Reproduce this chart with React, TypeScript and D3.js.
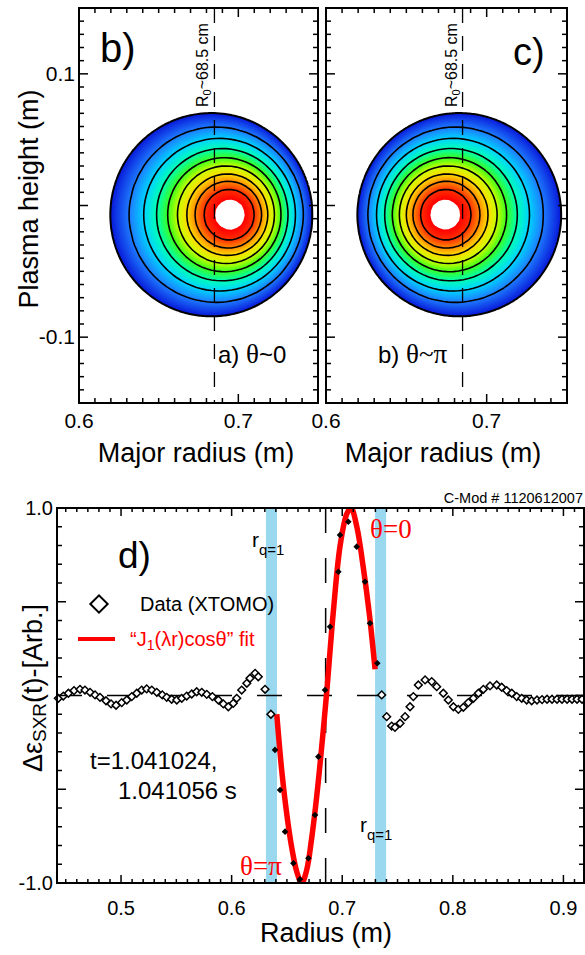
import { useEffect, useRef } from "react";
import * as d3 from "d3";

const W = 585;
const H = 955;
const SANS = "'Liberation Sans', Arial, Helvetica, sans-serif";
const SERIF = "'Liberation Serif', 'Times New Roman', serif";

// ---- top panels: SXR emissivity contours ----
const panelTags = ["b)", "c)"];
const panelCaption = ["a) ", "b) "];
const panelTheta = ["θ~0", "θ~π"];
const coreShift = [0.012, -0.009]; // shift of the hot core from the boundary centre (m)
const plasmaCentre = [0.683, -0.007]; // R, Z of the boundary (m)
const plasmaHalfSize = [0.0634, 0.0772]; // half width, half height (m)
const profileRho = [0, 0.15, 0.25, 0.33, 0.4, 0.48, 0.56, 0.65, 0.75, 0.86, 1.0];
const profileLevel = [1.0, 0.9, 0.8, 0.7, 0.6, 0.5, 0.4, 0.3, 0.2, 0.1, 0.0];
const contourLevels = [0.1, 0.2, 0.3, 0.4, 0.5, 0.6, 0.7, 0.8];
const colourLevels = [0, 0.1, 0.2, 0.3, 0.4, 0.5, 0.6, 0.7, 0.8, 0.9];
const colourStops = ["#0818d8", "#1e7cff", "#00d4ff", "#00ffb4", "#3cff1e", "#c8ff00", "#ffdc00", "#ff8c00", "#ff3200", "#ff0000"];
const majorRadiusTicks = [0.6, 0.7];
const heightTicks = [-0.1, 0.1];
const R0 = 0.685;

// ---- bottom panel: XTOMO perturbation profile ----
const dataR = [
  0.4433, 0.4478, 0.4524, 0.4575, 0.4629, 0.4674, 0.472, 0.4765, 0.481, 0.4864,
  0.491, 0.4955, 0.5006, 0.5052, 0.5097, 0.5142, 0.5187, 0.5232, 0.5278, 0.5323,
  0.5373, 0.5413, 0.5458, 0.5504, 0.5549, 0.5594, 0.5639, 0.5684, 0.573, 0.5775,
  0.5826, 0.588, 0.5925, 0.597, 0.6015, 0.6046, 0.6091, 0.6137, 0.6166, 0.6212,
  0.6241, 0.6302, 0.6355, 0.6392, 0.6438, 0.6483, 0.6558, 0.6618, 0.6694, 0.6754,
  0.6784, 0.6844, 0.689, 0.6965, 0.698, 0.7055, 0.7131, 0.7206, 0.7251, 0.7317,
  0.7357, 0.7402, 0.7447, 0.7477, 0.7523, 0.7568, 0.7613, 0.7643, 0.7688, 0.7749,
  0.7809, 0.7854, 0.7914, 0.7959, 0.8005, 0.805, 0.8095, 0.814, 0.8186, 0.8231,
  0.8276, 0.8336, 0.8397, 0.8442, 0.8487, 0.8533, 0.8578, 0.8623, 0.8668, 0.8713,
  0.8761, 0.8807, 0.8852, 0.8897, 0.8942, 0.8987, 0.9033, 0.9078, 0.9123, 0.9168,
];
const dataV = [
  -0.015, -0.003, 0.012, 0.026, 0.033, 0.029, 0.017, 0.003, -0.01, -0.028,
  -0.045, -0.052, -0.038, -0.024, -0.006, 0.012, 0.029, 0.035, 0.029, 0.017,
  0.003, -0.01, -0.02, -0.024, -0.015, -0.003, 0.008, 0.02, 0.017, 0.006,
  -0.006, -0.024, -0.045, -0.06, -0.042, -0.015, 0.029, 0.065, 0.092, 0.118,
  0.1, 0.033, -0.1, -0.29, -0.504, -0.726, -0.895, -0.98, -0.868, -0.637,
  -0.326, 0.029, 0.367, 0.66, 0.856, 0.927, 0.794, 0.607, 0.385, 0.172,
  0.003, -0.113, -0.163, -0.17, -0.148, -0.113, -0.06, -0.006, 0.056, 0.083,
  0.074, 0.047, 0.012, -0.024, -0.06, -0.074, -0.063, -0.038, -0.015, 0.012,
  0.033, 0.051, 0.056, 0.044, 0.026, 0.012, -0.006, -0.015, -0.024, -0.028,
  -0.024, -0.022, -0.02, -0.02, -0.02, -0.02, -0.02, -0.02, -0.02, -0.02,
];
const fitR = [0.6408, 0.6453, 0.6498, 0.6543, 0.6589, 0.6634, 0.6679, 0.6724, 0.6769, 0.6815, 0.686, 0.692, 0.6981, 0.7042, 0.708, 0.7132, 0.7191, 0.7246, 0.7297];
const fitV = [-0.1, -0.4, -0.63, -0.81, -0.94, -1.0, -0.93, -0.76, -0.54, -0.27, 0.02, 0.45, 0.8, 0.97, 1.0, 0.9, 0.68, 0.43, 0.14];
const qOneBands = [[0.631, 0.641], [0.7297, 0.7397]];
const radiusTicks = [0.5, 0.6, 0.7, 0.8, 0.9];
const ampTicks = [-1.0, 1.0];

type Sel = d3.Selection<any, unknown, null, undefined>;

function stepTicks(lo: number, hi: number, step: number) {
  const out: number[] = [];
  for (let k = Math.ceil(lo / step - 1e-6); k <= Math.floor(hi / step + 1e-6); k++) out.push(+(k * step).toFixed(6));
  return out;
}

function isMultiple(v: number, step: number) {
  return Math.abs(v / step - Math.round(v / step)) < 1e-6;
}

function frameTicks(g: Sel, xs: any, ys: any, xMinor: number, xMajor: number, yMinor: number, yMajor: number, lx: number[], ly: number[]) {
  const [x0, x1] = xs.range();
  const [y0, y1] = ys.range(); // bottom, top
  const xd = xs.domain();
  const yd = ys.domain();
  stepTicks(xd[0], xd[1], xMinor).forEach((t) => {
    const len = isMultiple(t, xMajor) ? lx[0] : lx[1];
    const x = xs(t);
    g.append("line").attr("x1", x).attr("x2", x).attr("y1", y0).attr("y2", y0 - len);
    g.append("line").attr("x1", x).attr("x2", x).attr("y1", y1).attr("y2", y1 + len);
  });
  stepTicks(yd[0], yd[1], yMinor).forEach((t) => {
    const len = isMultiple(t, yMajor) ? ly[0] : ly[1];
    const y = ys(t);
    g.append("line").attr("x1", x0).attr("x2", x0 + len).attr("y1", y).attr("y2", y);
    g.append("line").attr("x1", x1).attr("x2", x1 - len).attr("y1", y).attr("y2", y);
  });
  g.selectAll("line").attr("stroke", "#000").attr("stroke-width", 1.5);
  g.append("rect")
    .attr("x", x0).attr("y", y1).attr("width", x1 - x0).attr("height", y0 - y1)
    .attr("fill", "none").attr("stroke", "#000").attr("stroke-width", 2);
}

function drawTop(svg: Sel) {
  const panelX = [[79, 318], [326, 567]];
  const top = 8;
  const bottom = 403;
  const level = d3.scaleLinear().domain(profileRho).range(profileLevel);
  const colour = d3.scaleLinear<string>().domain(colourLevels).range(colourStops).interpolate(d3.interpolateRgb).clamp(true);
  const [Rc, Zc] = plasmaCentre;
  const [a, b] = plasmaHalfSize;

  panelX.forEach((px, p) => {
    const xs = d3.scaleLinear().domain([0.6, 0.75]).range(px);
    const ys = d3.scaleLinear().domain([-0.15, 0.15]).range([bottom, top]);
    const g = svg.append("g");

    const grid = (step: number) => {
      const nx = Math.ceil((px[1] - px[0]) / step);
      const ny = Math.ceil((bottom - top) / step);
      const values = new Array(nx * ny);
      for (let j = 0; j < ny; j++) {
        for (let i = 0; i < nx; i++) {
          const R = xs.invert(px[0] + (i + 0.5) * step);
          const Z = ys.invert(top + (j + 0.5) * step);
          const dz = (Z - Zc) / b;
          let rho = Math.hypot((R - Rc) / a, dz);
          for (let k = 0; k < 10; k++) {
            const c = Rc + coreShift[p] * (1 - Math.min(rho, 1) ** 2);
            rho = Math.hypot((R - c) / a, dz);
          }
          values[i + j * nx] = rho <= 1 ? level(rho) : -(rho - 1) * 0.7;
        }
      }
      const path = d3.geoPath(d3.geoIdentity().scale(step).translate([px[0], top]) as any);
      return { nx, ny, values, path };
    };

    const fine = grid(1.5);
    const fillLevels = d3.range(0, 90).map((k) => k / 100);
    const fills = d3.contours().size([fine.nx, fine.ny]).thresholds(fillLevels)(fine.values);
    g.selectAll("path.fill")
      .data(fills)
      .join("path")
      .attr("d", (d: any) => fine.path(d))
      .attr("fill", (d: any) => colour(d.value + 0.005))
      .attr("stroke", "none");

    // white core drawn on a coarse grid, like the reference's blocky centre
    const coarse = grid(5);
    const core = d3.contours().size([coarse.nx, coarse.ny]).thresholds([0.9])(coarse.values);
    g.append("path").attr("d", coarse.path(core[0]) as string).attr("fill", "#ffffff");

    const lines = d3.contours().size([coarse.nx, coarse.ny]).thresholds(contourLevels)(coarse.values);
    g.selectAll("path.line")
      .data(lines)
      .join("path")
      .attr("d", (d: any) => coarse.path(d))
      .attr("fill", "none")
      .attr("stroke", "#000")
      .attr("stroke-width", 1.6)
      .attr("stroke-linejoin", "round");

    const edge = d3.contours().size([fine.nx, fine.ny]).thresholds([0])(fine.values);
    g.append("path").attr("d", fine.path(edge[0]) as string).attr("fill", "none").attr("stroke", "#000").attr("stroke-width", 2);

    // R0 dashed line and label
    g.append("line")
      .attr("x1", xs(R0)).attr("x2", xs(R0)).attr("y1", top).attr("y2", bottom)
      .attr("stroke", "#000").attr("stroke-width", 1.3).attr("stroke-dasharray", "15,13");
    const lab = g.append("text")
      .attr("transform", `translate(${xs(R0) - 6},107) rotate(-90)`)
      .attr("font-family", SANS).attr("font-size", 16).attr("fill", "#000");
    lab.append("tspan").text("R");
    lab.append("tspan").attr("font-size", 11).attr("dy", 3).text("0");
    lab.append("tspan").attr("dy", -3).text("~68.5 cm");

    // panel tag and caption
    g.append("text").attr("x", p === 0 ? 100 : 513).attr("y", p === 0 ? 62 : 65)
      .attr("font-family", SANS).attr("font-size", p === 0 ? 40 : 38).text(panelTags[p]);
    const cap = g.append("text").attr("x", p === 0 ? 218 : 378).attr("y", 363)
      .attr("font-family", SANS).attr("font-size", 24);
    cap.append("tspan").text(panelCaption[p]);
    cap.append("tspan").attr("font-family", SERIF).attr("font-size", 27).text(panelTheta[p].slice(0, 1));
    cap.append("tspan").attr("font-family", p === 0 ? SANS : SERIF).attr("font-size", p === 0 ? 24 : 27).text(panelTheta[p].slice(1));

    frameTicks(g.append("g"), xs, ys, 0.01, 0.1, 0.01, 0.1, [9, 5], [9, 5]);

    majorRadiusTicks.forEach((t) => {
      g.append("text").attr("x", xs(t)).attr("y", 428).attr("text-anchor", "middle")
        .attr("font-family", SANS).attr("font-size", 21).text(t.toFixed(1));
    });
    if (p === 0) {
      heightTicks.forEach((t) => {
        g.append("text").attr("x", 75).attr("y", ys(t) + 7).attr("text-anchor", "end")
          .attr("font-family", SANS).attr("font-size", 21).text(t.toFixed(1));
      });
      g.append("text").attr("transform", "translate(38,199) rotate(-90)").attr("text-anchor", "middle")
        .attr("font-family", SANS).attr("font-size", 27).text("Plasma height (m)");
    }
    g.append("text").attr("x", p === 0 ? 196 : 443).attr("y", 462).attr("text-anchor", "middle")
      .attr("font-family", SANS).attr("font-size", 27).text("Major radius (m)");
  });
}

function drawBottom(svg: Sel) {
  const left = 57, right = 584, top = 508, bottom = 883;
  const xs = d3.scaleLinear().domain([0.4421, 0.9186]).range([left, right]);
  const ys = d3.scaleLinear().domain([-1, 1]).range([bottom, top]);
  const g = svg.append("g");

  svg.append("defs").append("clipPath").attr("id", "clipD")
    .append("rect").attr("x", left).attr("y", top).attr("width", right - left).attr("height", bottom - top);

  g.selectAll("rect.band")
    .data(qOneBands)
    .join("rect")
    .attr("x", (d) => xs(d[0])).attr("width", (d) => xs(d[1]) - xs(d[0]))
    .attr("y", top).attr("height", bottom - top)
    .attr("fill", "#9ad8f0");

  g.append("line").attr("x1", left).attr("x2", right).attr("y1", ys(0)).attr("y2", ys(0))
    .attr("stroke", "#000").attr("stroke-width", 1.5).attr("stroke-dasharray", "25,25");
  g.append("line").attr("x1", xs(R0)).attr("x2", xs(R0)).attr("y1", top).attr("y2", bottom)
    .attr("stroke", "#000").attr("stroke-width", 1.5).attr("stroke-dasharray", "25,25");

  const fitLine = d3.line<number>().x((d, i) => xs(fitR[i])).y((d) => ys(d)).curve(d3.curveCatmullRom);
  g.append("path").attr("d", fitLine(fitV) as string).attr("clip-path", "url(#clipD)")
    .attr("fill", "none").attr("stroke", "#ff0000").attr("stroke-width", 5.5).attr("stroke-linejoin", "round");

  const big = d3.symbol(d3.symbolSquare, 30)();
  const small = d3.symbol(d3.symbolSquare, 10)();
  dataV.forEach((v, i) => {
    const r = dataR[i];
    const inner = r > 0.637 && r < 0.733;
    g.append("path")
      .attr("d", inner ? small : big)
      .attr("transform", `translate(${xs(r)},${ys(v)}) rotate(45)`)
      .attr("fill", inner ? "#000" : "#fff")
      .attr("stroke", "#000").attr("stroke-width", 1.5);
  });

  frameTicks(g.append("g"), xs, ys, 0.01, 0.1, 0.1, 0.5, [8, 4], [9, 5]);

  radiusTicks.forEach((t) => {
    g.append("text").attr("x", xs(t)).attr("y", 915).attr("text-anchor", "middle")
      .attr("font-family", SANS).attr("font-size", 20).text(t.toFixed(1));
  });
  ampTicks.forEach((t) => {
    g.append("text").attr("x", 53).attr("y", ys(t) + 7).attr("text-anchor", "end")
      .attr("font-family", SANS).attr("font-size", 20).text(t.toFixed(1));
  });
  g.append("text").attr("x", 326).attr("y", 942).attr("text-anchor", "middle")
    .attr("font-family", SANS).attr("font-size", 27).text("Radius (m)");
  const yl = g.append("text").attr("transform", "translate(42,688) rotate(-90)").attr("text-anchor", "middle")
    .attr("font-family", SANS).attr("font-size", 27);
  yl.append("tspan").text("Δε");
  yl.append("tspan").attr("font-size", 19).attr("dy", 4).text("SXR");
  yl.append("tspan").attr("dy", -4).text("(t)-[Arb.]");

  g.append("text").attr("x", 583).attr("y", 503).attr("text-anchor", "end")
    .attr("font-family", SANS).attr("font-size", 14.5).text("C-Mod # 1120612007");
  g.append("text").attr("x", 118).attr("y", 568).attr("font-family", SANS).attr("font-size", 37).text("d)");

  // legend
  g.append("path").attr("d", d3.symbol(d3.symbolSquare, 150)()).attr("transform", "translate(99,604) rotate(45)")
    .attr("fill", "none").attr("stroke", "#000").attr("stroke-width", 2);
  g.append("text").attr("x", 140).attr("y", 611).attr("font-family", SANS).attr("font-size", 20).text("Data (XTOMO)");
  g.append("line").attr("x1", 78).attr("x2", 115).attr("y1", 639).attr("y2", 639).attr("stroke", "#ff0000").attr("stroke-width", 4);
  const fl = g.append("text").attr("x", 130).attr("y", 646).attr("font-family", SANS).attr("font-size", 20).attr("fill", "#ff0000");
  fl.append("tspan").text("“J");
  fl.append("tspan").attr("font-size", 14).attr("dy", 4).text("1");
  fl.append("tspan").attr("dy", -4).text("(λr)cosθ” fit");

  // q=1 labels
  const rq = (x: number, y: number) => {
    const t = g.append("text").attr("x", x).attr("y", y).attr("font-family", SANS).attr("font-size", 21);
    t.append("tspan").text("r");
    t.append("tspan").attr("font-size", 15).attr("dy", 8).text("q=1");
  };
  rq(252, 547);
  rq(360, 832);

  g.append("text").attr("x", 370).attr("y", 538).attr("font-family", SERIF).attr("font-size", 27).attr("fill", "#ff0000").text("θ=0");
  g.append("text").attr("x", 240).attr("y", 875).attr("font-family", SERIF).attr("font-size", 27).attr("fill", "#ff0000").text("θ=π");

  g.append("text").attr("x", 90).attr("y", 769).attr("font-family", SANS).attr("font-size", 24).text("t=1.041024,");
  g.append("text").attr("x", 118).attr("y", 799).attr("font-family", SANS).attr("font-size", 24).text("1.041056 s");
}

export default function App() {
  const ref = useRef<SVGSVGElement | null>(null);
  useEffect(() => {
    const svg = d3.select(ref.current) as any;
    svg.selectAll("*").remove();
    drawTop(svg);
    drawBottom(svg);
  }, []);
  return (
    <svg
      ref={ref}
      width={W}
      height={H}
      style={{ position: "absolute", left: 0, top: 0, background: "#fff" }}
    />
  );
}
